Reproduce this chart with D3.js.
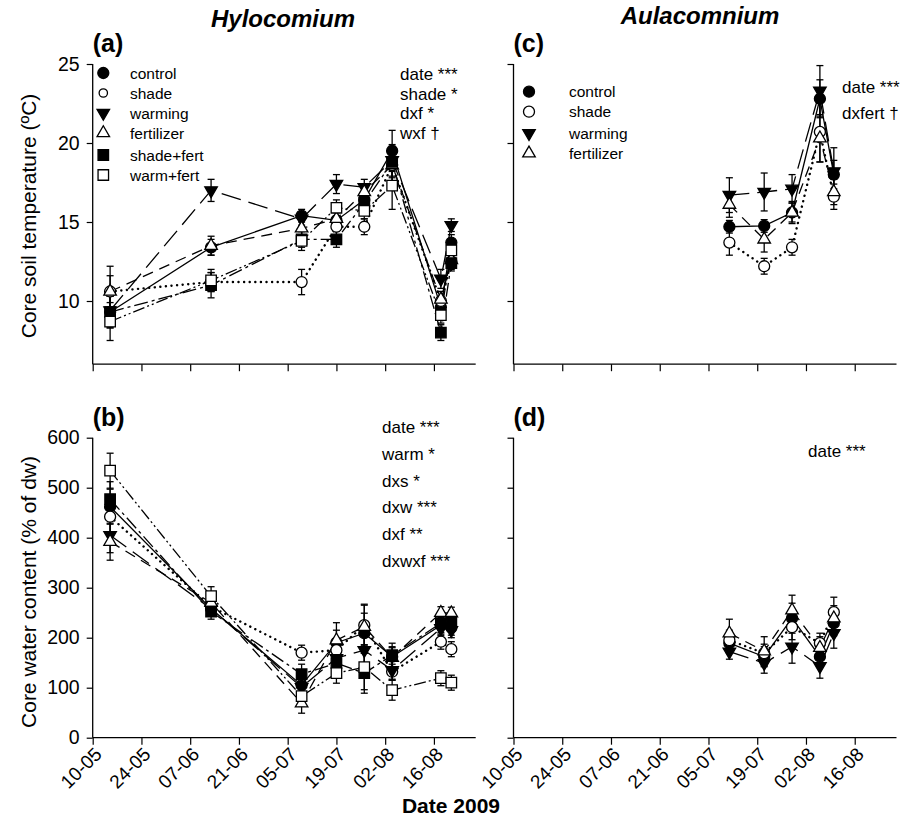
<!DOCTYPE html>
<html>
<head>
<meta charset="utf-8">
<script src="https://cdn.jsdelivr.net/npm/d3@7"></script>
<style>
  body { margin: 0; background: #fff; }
  svg { font-family: "Liberation Sans", Arial, sans-serif; }
</style>
</head>
<body>
<svg id="chart" width="909" height="823"></svg>
<script>
// treatments
const treatments = ["control", "shade", "warming", "fertilizer", "shade+fert", "warm+fert"];
const treatmentsA = ["control", "shade", "warming", "fertilizer"];

// sampling dates
const datesH = ["2009-05-15", "2009-06-13", "2009-07-09", "2009-07-19", "2009-07-27", "2009-08-04", "2009-08-18", "2009-08-21"];
const datesA = ["2009-07-11", "2009-07-21", "2009-07-29", "2009-08-06", "2009-08-10"];

// axis ticks
const xTicks = ["2009-05-10", "2009-05-24", "2009-06-07", "2009-06-21", "2009-07-05", "2009-07-19", "2009-08-02", "2009-08-16"];
const tempTicks = [10, 15, 20, 25];
const waterTicks = [0, 100, 200, 300, 400, 500, 600];

// (a) Hylocomium core soil temperature, mean and se
const tempH = {
  "control":    [9.3, 13.4, 15.4, 15.1, 16.4, 19.5, 9.6, 13.7],
  "shade":      [10.6, 11.2, 11.2, 14.7, 14.7, 18.6, 10.0, 12.5],
  "warming":    [9.4, 17.0, 15.2, 17.4, 17.2, 18.9, 11.4, 14.8],
  "fertilizer": [10.6, 13.5, 14.6, 15.2, 16.9, 18.6, 10.1, 12.6],
  "shade+fert": [9.3, 11.0, 13.9, 13.9, 16.2, 18.8, 8.0, 12.4],
  "warm+fert":  [8.7, 11.3, 13.8, 15.9, 15.7, 17.3, 9.1, 13.2]
};
const tempHse = {
  "control":    [1.0, 0.5, 0.4, 0.5, 0.5, 1.3, 0.6, 0.5],
  "shade":      [1.6, 0.6, 0.8, 0.6, 0.5, 1.0, 0.6, 0.5],
  "warming":    [1.0, 0.7, 0.4, 0.6, 0.5, 1.0, 0.6, 0.4],
  "fertilizer": [1.0, 0.6, 0.5, 0.5, 0.5, 1.0, 0.5, 0.5],
  "shade+fert": [1.0, 0.8, 0.5, 0.5, 0.5, 1.0, 0.5, 0.5],
  "warm+fert":  [1.2, 0.7, 0.6, 0.5, 0.5, 1.5, 0.5, 0.5]
};

// (b) Hylocomium core water content
const waterH = {
  "control":    [462, 258, 105, 190, 209, 162, 225, 220],
  "shade":      [442, 262, 170, 175, 225, 132, 192, 177],
  "warming":    [405, 258, 101, 159, 175, 135, 219, 215],
  "fertilizer": [392, 270, 69, 195, 222, 160, 250, 249],
  "shade+fert": [477, 252, 127, 149, 129, 165, 229, 232],
  "warm+fert":  [534, 283, 83, 129, 141, 95, 119, 110]
};
const waterHse = {
  "control":    [35, 15, 20, 25, 40, 20, 15, 15],
  "shade":      [30, 15, 15, 20, 40, 15, 15, 15],
  "warming":    [35, 15, 20, 25, 40, 20, 15, 15],
  "fertilizer": [37, 15, 20, 35, 45, 20, 12, 12],
  "shade+fert": [35, 15, 20, 25, 40, 24, 15, 15],
  "warm+fert":  [35, 19, 20, 20, 45, 20, 15, 15]
};

// (c) Aulacomnium core soil temperature
const tempA = {
  "control":    [14.7, 14.75, 15.6, 22.8, 18.0],
  "shade":      [13.7, 12.2, 13.4, 20.7, 16.6],
  "warming":    [16.7, 16.9, 17.1, 23.3, 18.2],
  "fertilizer": [16.1, 13.9, 15.6, 20.3, 16.9]
};
const tempAse = {
  "control":    [0.4, 0.4, 0.6, 1.2, 0.9],
  "shade":      [0.8, 0.5, 0.5, 1.9, 0.8],
  "warming":    [1.1, 1.2, 0.9, 1.6, 1.5],
  "fertilizer": [0.8, 0.8, 0.7, 1.5, 0.8]
};

// (d) Aulacomnium core water content
const waterA = {
  "control":    [189, 162, 239, 162, 229],
  "shade":      [195, 169, 221, 189, 251],
  "warming":    [172, 149, 182, 143, 209],
  "fertilizer": [209, 173, 255, 180, 239]
};
const waterAse = {
  "control":    [20, 20, 30, 20, 25],
  "shade":      [20, 18, 25, 20, 30],
  "warming":    [15, 20, 33, 24, 30],
  "fertilizer": [28, 29, 30, 22, 25]
};

// stats text
const statsA = ["date ***", "shade *", "dxf *", "wxf \u2020"];
const statsB = ["date ***", "warm *", "dxs *", "dxw ***", "dxf **", "dxwxf ***"];
const statsC = ["date ***", "dxfert \u2020"];
const statsD = ["date ***"];

const parse = d3.timeParse("%Y-%m-%d");

const styles = {
  "control":    {sym: d3.symbolCircle, size: 95, fill: "#000", rot: 0, dash: null},
  "shade":      {sym: d3.symbolCircle, size: 95, fill: "#fff", rot: 0, dash: "0.1,5.5"},
  "warming":    {sym: d3.symbolTriangle, size: 68, fill: "#000", rot: 180, dash: "20,8"},
  "fertilizer": {sym: d3.symbolTriangle, size: 68, fill: "#fff", rot: 0, dash: "11,7"},
  "shade+fert": {sym: d3.symbolSquare, size: 110, fill: "#000", rot: 0, dash: "14,4,3,4"},
  "warm+fert":  {sym: d3.symbolSquare, size: 110, fill: "#fff", rot: 0, dash: "12,3,2,3,2,3"}
};

const svg = d3.select("#chart");

function panel(opt) {
  let x = d3.scaleTime()
    .domain([parse("2009-05-10"), parse("2009-08-28")])
    .range([opt.left, opt.left + 383]);
  let y = d3.scaleLinear()
    .domain(opt.ydom)
    .range([opt.bottom, opt.top]);

  let g = svg.append("g");

  // x axis
  let xa = g.append("g")
    .attr("transform", "translate(0," + opt.bottom + ")")
    .call(d3.axisBottom(x).tickValues(xTicks.map(parse)).tickSize(7).tickFormat(""));
  xa.select(".domain").attr("d", "M" + opt.left + ",0H" + (opt.left + 383)).attr("stroke-width", 1.3);
  xa.selectAll(".tick line").attr("stroke-width", 1.2);

  if (opt.xlabels) {
    xa.selectAll(".tick").append("text")
      .attr("transform", "translate(5,13) rotate(-45)")
      .attr("text-anchor", "end")
      .attr("fill", "#000")
      .attr("font-size", 19)
      .attr("dy", "0.35em")
      .text(d => d3.timeFormat("%d-%m")(d));
  }

  // y axis
  let ya = g.append("g")
    .attr("transform", "translate(" + opt.left + ",0)")
    .call(d3.axisLeft(y).tickValues(opt.yticks).tickSize(6)
      .tickFormat(opt.ylabels ? d3.format("d") : ""));
  ya.select(".domain").attr("d", "M0," + opt.top + "V" + opt.bottom).attr("stroke-width", 1.3);
  ya.selectAll(".tick line").attr("stroke-width", 1.2);
  ya.selectAll(".tick text").attr("font-size", 19.5).attr("font-family", "Liberation Sans, Arial").attr("x", -13);

  // series lines
  let line = d3.line().x(d => x(d.date)).y(d => y(d.v));
  opt.series.forEach(s => {
    let pts = opt.dates.map((d, i) => ({date: parse(d), v: opt.vals[s][i], se: opt.se[s][i]}));
    g.append("path")
      .datum(pts)
      .attr("d", line)
      .attr("fill", "none")
      .attr("stroke", "#000")
      .attr("stroke-width", s == "shade" ? 2.4 : 1.3)
      .attr("stroke-linecap", s == "shade" ? "round" : "butt")
      .attr("stroke-dasharray", styles[s].dash);
  });

  // error bars
  opt.series.forEach(s => {
    let pts = opt.dates.map((d, i) => ({date: parse(d), v: opt.vals[s][i], se: opt.se[s][i]}));
    let eb = g.selectAll("g.eb" + s.replace("+", ""))
      .data(pts)
      .enter()
      .append("g");
    eb.append("line")
      .attr("x1", d => x(d.date)).attr("x2", d => x(d.date))
      .attr("y1", d => y(d.v - d.se)).attr("y2", d => y(d.v + d.se))
      .attr("stroke", "#000").attr("stroke-width", 1.3);
    eb.append("line")
      .attr("x1", d => x(d.date) - 3.5).attr("x2", d => x(d.date) + 3.5)
      .attr("y1", d => y(d.v + d.se)).attr("y2", d => y(d.v + d.se))
      .attr("stroke", "#000").attr("stroke-width", 1.3);
    eb.append("line")
      .attr("x1", d => x(d.date) - 3.5).attr("x2", d => x(d.date) + 3.5)
      .attr("y1", d => y(d.v - d.se)).attr("y2", d => y(d.v - d.se))
      .attr("stroke", "#000").attr("stroke-width", 1.3);
  });

  // markers
  opt.series.forEach(s => {
    let st = styles[s];
    let pts = opt.dates.map((d, i) => ({date: parse(d), v: opt.vals[s][i]}));
    g.selectAll("path.m" + s.replace("+", ""))
      .data(pts)
      .enter()
      .append("path")
        .attr("d", d3.symbol().type(st.sym).size(st.size))
        .attr("transform", d => "translate(" + x(d.date) + "," + y(d.v) + ") rotate(" + st.rot + ")")
        .attr("fill", st.fill)
        .attr("stroke", "#000")
        .attr("stroke-width", 1.3);
  });

  // legend
  if (opt.legend) {
    let lg = g.selectAll("g.leg")
      .data(opt.series)
      .enter()
      .append("g")
        .attr("transform", (d, i) => "translate(0," + opt.legend.ys[i] + ")");
    lg.append("path")
      .attr("d", d => d3.symbol().type(styles[d].sym).size(d == "shade" ? opt.legend.shadeSize : styles[d].size)())
      .attr("transform", d => "translate(" + opt.legend.x + ",0) rotate(" + styles[d].rot + ")")
      .attr("fill", d => styles[d].fill)
      .attr("stroke", "#000")
      .attr("stroke-width", 1.3);
    lg.append("text")
      .attr("x", opt.legend.tx)
      .attr("y", 5.5)
      .attr("font-size", 15.5)
      .text(d => d);
  }

  // stats
  g.selectAll("text.stat")
    .data(opt.stats)
    .enter()
    .append("text")
      .attr("x", opt.statX)
      .attr("y", (d, i) => opt.statY + i * opt.statDy)
      .attr("font-size", 17)
      .text(d => d);

  // panel letter
  g.append("text")
    .attr("x", opt.left)
    .attr("y", opt.top - 12)
    .attr("font-size", 25)
    .attr("font-weight", "bold")
    .text(opt.letter);
}

panel({left: 92.7, top: 64, bottom: 364.2, ydom: [6, 25], yticks: tempTicks, ylabels: true, xlabels: false,
  series: treatments, dates: datesH, vals: tempH, se: tempHse, letter: "(a)",
  legend: {x: 103.3, tx: 130, shadeSize: 55, ys: [73, 93, 113, 133, 155, 175]},
  stats: statsA, statX: 400, statY: 80, statDy: 19.5});

panel({left: 92.7, top: 437.7, bottom: 737.7, ydom: [0, 600], yticks: waterTicks, ylabels: true, xlabels: true,
  series: treatments, dates: datesH, vals: waterH, se: waterHse, letter: "(b)",
  legend: null, stats: statsB, statX: 382, statY: 433, statDy: 26.8});

panel({left: 513.5, top: 64, bottom: 364.2, ydom: [6, 25], yticks: tempTicks, ylabels: false, xlabels: false,
  series: treatmentsA, dates: datesA, vals: tempA, se: tempAse, letter: "(c)",
  legend: {x: 529, tx: 569, shadeSize: 95, ys: [91.7, 111.7, 133.3, 153.3]},
  stats: statsC, statX: 842, statY: 93, statDy: 26});

panel({left: 513.5, top: 437.7, bottom: 737.7, ydom: [0, 600], yticks: waterTicks, ylabels: false, xlabels: true,
  series: treatmentsA, dates: datesA, vals: waterA, se: waterAse, letter: "(d)",
  legend: null, stats: statsD, statX: 808, statY: 457, statDy: 26});

// titles
svg.append("text")
  .attr("x", 283).attr("y", 27)
  .attr("text-anchor", "middle")
  .attr("font-size", 24).attr("font-weight", "bold").attr("font-style", "italic")
  .text("Hylocomium");
svg.append("text")
  .attr("x", 700).attr("y", 24)
  .attr("text-anchor", "middle")
  .attr("font-size", 24).attr("font-weight", "bold").attr("font-style", "italic")
  .text("Aulacomnium");

// axis titles
svg.append("text")
  .attr("transform", "translate(36,216) rotate(-90)")
  .attr("text-anchor", "middle")
  .attr("font-size", 21)
  .text("Core soil temperature (ºC)");
svg.append("text")
  .attr("transform", "translate(36,592) rotate(-90)")
  .attr("text-anchor", "middle")
  .attr("font-size", 21)
  .text("Core water content (% of dw)");
svg.append("text")
  .attr("x", 451).attr("y", 813)
  .attr("text-anchor", "middle")
  .attr("font-size", 21).attr("font-weight", "bold")
  .text("Date 2009");
</script>
</body>
</html>
